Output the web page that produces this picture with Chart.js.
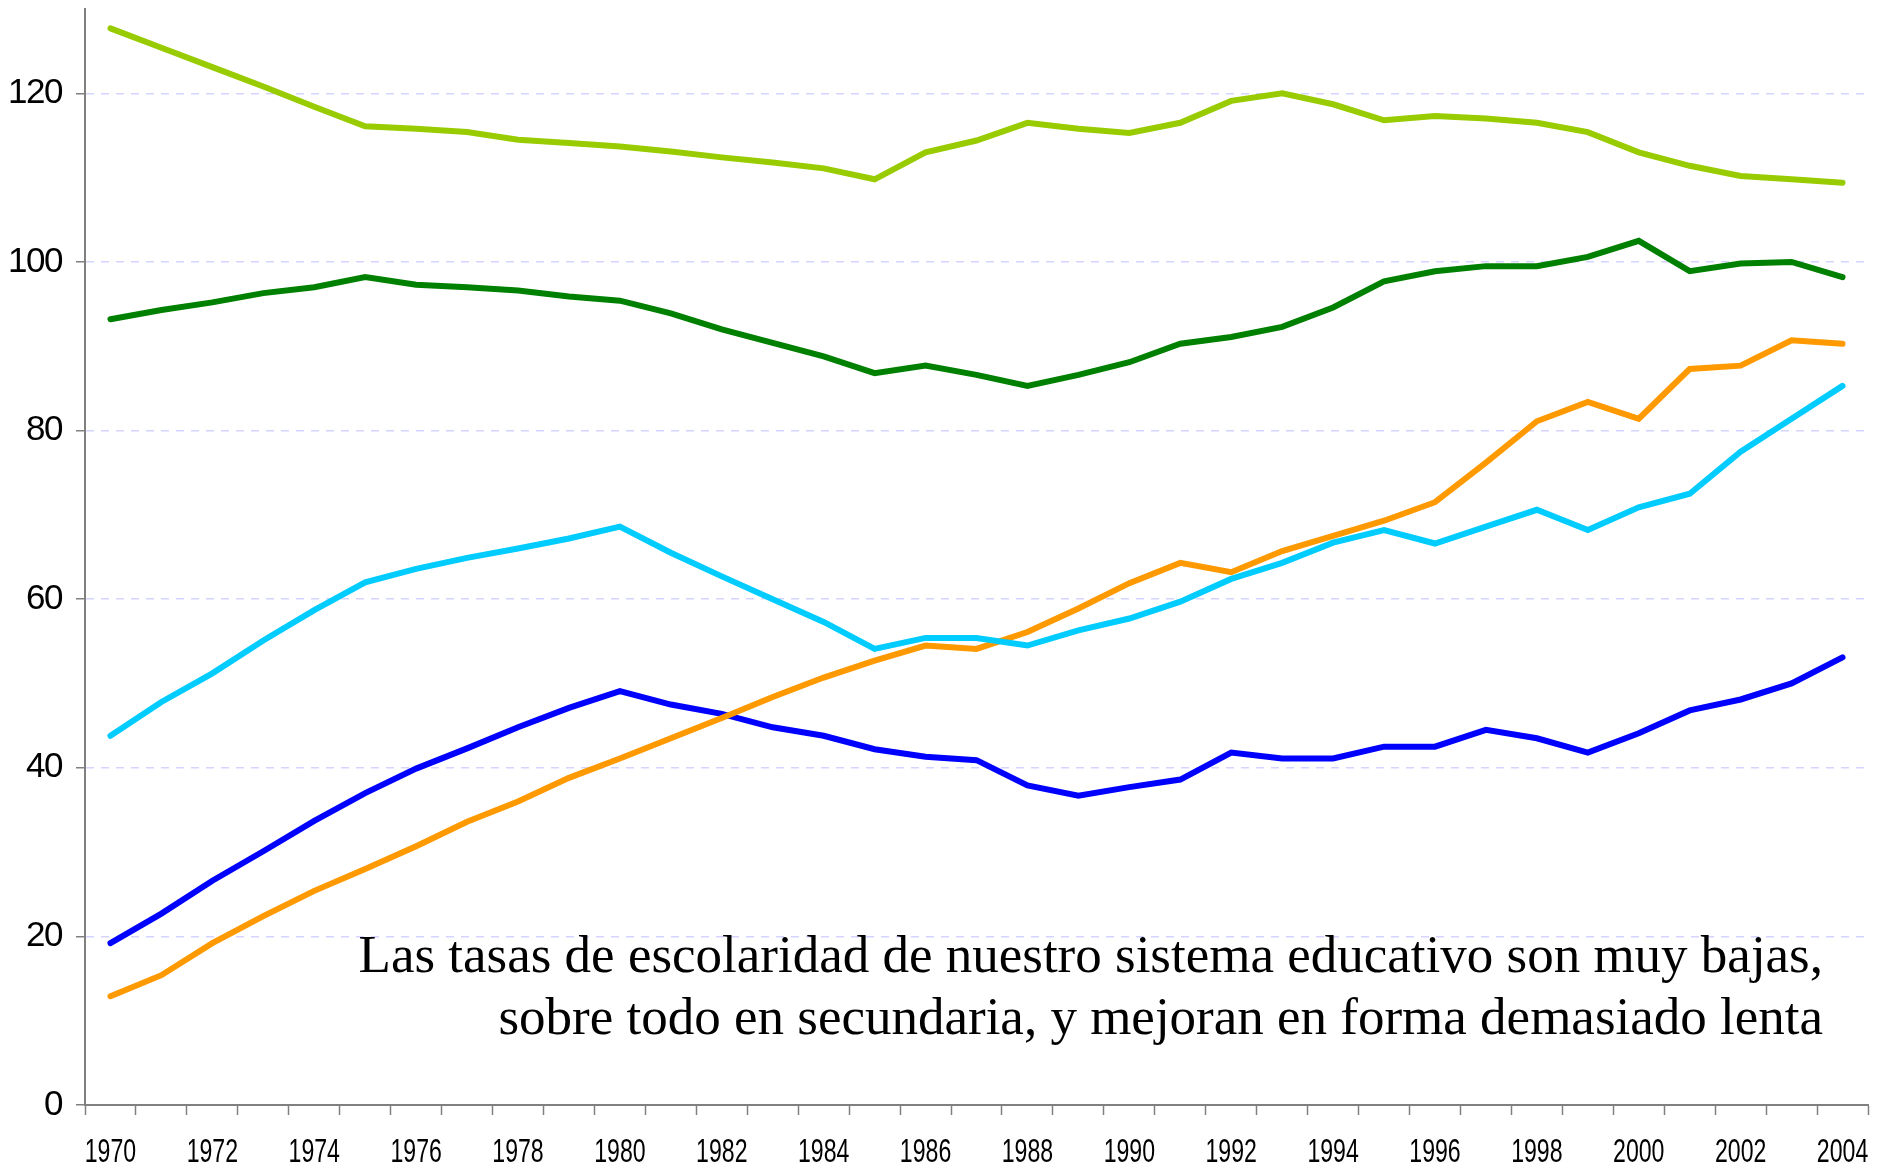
<!DOCTYPE html>
<html lang="es">
<head>
<meta charset="utf-8">
<title>Tasas de escolaridad 1970-2004</title>
<script src="https://cdn.jsdelivr.net/npm/chart.js@4/dist/chart.umd.min.js"></script>
<style>
    html, body { margin: 0; padding: 0; background: #ffffff; }
    #wrap { width: 1893px; height: 1168px; position: relative; }
</style>
</head>
<body>
<div id="wrap"><canvas id="chartTasas"></canvas></div>
<script>
// Years on the x axis
const years = ['1970', '1971', '1972', '1973', '1974', '1975', '1976', '1977', '1978', '1979',
    '1980', '1981', '1982', '1983', '1984', '1985', '1986', '1987', '1988', '1989',
    '1990', '1991', '1992', '1993', '1994', '1995', '1996', '1997', '1998', '1999',
    '2000', '2001', '2002', '2003', '2004'];

// Series values (%)
const serieVerdeClaro = [127.7, 125.4, 123.1, 120.8, 118.4, 116.1, 115.8, 115.4, 114.5, 114.1,
    113.7, 113.1, 112.4, 111.8, 111.1, 109.8, 113.0, 114.4, 116.5, 115.8,
    115.3, 116.5, 119.1, 120.0, 118.7, 116.8, 117.3, 117.0, 116.5, 115.4,
    113.0, 111.4, 110.2, 109.8, 109.4];
const serieVerdeOscuro = [93.2, 94.3, 95.2, 96.3, 97.0, 98.2, 97.3, 97.0, 96.6, 95.9,
    95.4, 93.9, 92.0, 90.4, 88.8, 86.8, 87.7, 86.6, 85.3, 86.6,
    88.1, 90.3, 91.1, 92.3, 94.6, 97.7, 98.9, 99.5, 99.5, 100.6,
    102.5, 98.9, 99.8, 100.0, 98.2];
const serieCian = [43.8, 47.8, 51.2, 55.1, 58.7, 62.0, 63.6, 64.9, 66.0, 67.2,
    68.6, 65.5, 62.7, 60.0, 57.3, 54.1, 55.4, 55.4, 54.5, 56.3,
    57.7, 59.7, 62.4, 64.3, 66.7, 68.2, 66.6, 68.6, 70.6, 68.2,
    70.9, 72.5, 77.5, 81.4, 85.3];
const serieNaranja = [12.9, 15.4, 19.2, 22.4, 25.4, 28.0, 30.7, 33.6, 36.0, 38.8,
    41.1, 43.5, 45.9, 48.4, 50.7, 52.7, 54.5, 54.1, 56.1, 58.9,
    61.9, 64.3, 63.2, 65.7, 67.5, 69.3, 71.5, 76.2, 81.1, 83.4,
    81.4, 87.3, 87.7, 90.7, 90.3];
const serieAzul = [19.2, 22.7, 26.6, 30.1, 33.7, 37.0, 39.9, 42.3, 44.8, 47.1,
    49.1, 47.5, 46.4, 44.8, 43.8, 42.2, 41.3, 40.9, 37.9, 36.7,
    37.7, 38.6, 41.8, 41.1, 41.1, 42.5, 42.5, 44.5, 43.5, 41.8,
    44.1, 46.8, 48.1, 50.0, 53.1];

// Y axis labels
const yTicks = [0, 20, 40, 60, 80, 100, 120];

const notaLineas = [
    'Las tasas de escolaridad de nuestro sistema educativo son muy bajas,',
    'sobre todo en secundaria, y mejoran en forma demasiado lenta'
];

function serie(label, data, color) {
    return {
        label: label,
        data: data,
        borderColor: color,
        backgroundColor: color,
        borderWidth: 6,
        borderCapStyle: 'round',
        borderJoinStyle: 'miter',
        pointRadius: 0,
        tension: 0,
        fill: false
    };
}

// Y numbers set slightly tight
const apretarTexto = {
    id: 'apretarTexto',
    beforeDraw(chart) { chart.ctx.letterSpacing = '-1.5px'; },
    afterDraw(chart) { chart.ctx.letterSpacing = '0px'; }
};

// Year labels: condensed text under every second tick
const etiquetasAnios = {
    id: 'etiquetasAnios',
    afterDraw(chart) {
        const ctx = chart.ctx;
        const xScale = chart.scales.x;
        const yBase = xScale.top + 57;
        ctx.save();
        ctx.letterSpacing = '0px';
        ctx.fillStyle = '#000000';
        ctx.font = '33px "Liberation Sans", Arial, sans-serif';
        ctx.textAlign = 'center';
        ctx.textBaseline = 'alphabetic';
        years.forEach(function (anio, i) {
            if (i % 2 !== 0) return;
            const x = xScale.getPixelForTick(i);
            ctx.save();
            ctx.translate(x, yBase);
            ctx.scale(0.7, 1);
            ctx.fillText(anio, 0, 0);
            ctx.restore();
        });
        ctx.restore();
    }
};

// Text block in the lower right of the plot
const notaPlugin = {
    id: 'nota',
    afterDatasetsDraw(chart) {
        const ctx = chart.ctx;
        ctx.save();
        ctx.letterSpacing = '0px';
        ctx.fillStyle = '#000000';
        ctx.font = '53px "Liberation Serif", "Times New Roman", serif';
        ctx.textAlign = 'right';
        ctx.textBaseline = 'alphabetic';
        ctx.fillText(notaLineas[0], 1823, 972);
        ctx.fillText(notaLineas[1], 1823, 1034);
        ctx.restore();
    }
};

function sinRelleno(scale) {
    scale.paddingTop = 0;
    scale.paddingBottom = 0;
}

function initChartTasas() {
    const ctx = document.getElementById('chartTasas');
    Chart.defaults.font.family = '"Liberation Sans", Arial, sans-serif';
    Chart.defaults.color = '#000000';

    new Chart(ctx, {
        type: 'line',
        data: {
            labels: years,
            datasets: [
                serie('Serie 1', serieVerdeClaro, '#99cc00'),
                serie('Serie 2', serieVerdeOscuro, '#008000'),
                serie('Serie 3', serieCian, '#00ccff'),
                serie('Serie 4', serieNaranja, '#ff9900'),
                serie('Serie 5', serieAzul, '#0000ff')
            ]
        },
        options: {
            responsive: true,
            maintainAspectRatio: false,
            animation: false,
            layout: { padding: { top: 9, right: 25, left: 0, bottom: 0 } },
            plugins: {
                legend: { display: false },
                tooltip: { enabled: false }
            },
            scales: {
                x: {
                    type: 'category',
                    offset: true,
                    grid: {
                        offset: true,
                        drawOnChartArea: false,
                        tickLength: 10,
                        tickColor: '#808080',
                        tickWidth: 1.5
                    },
                    border: { color: '#808080', width: 2 },
                    ticks: {
                        autoSkip: false,
                        maxRotation: 0,
                        font: { size: 28 },
                        // drawn by etiquetasAnios
                        callback: function () { return ''; }
                    },
                    afterFit: function (scale) {
                        scale.height = 63;
                        scale.paddingLeft = 0;
                        scale.paddingRight = 0;
                    }
                },
                y: {
                    min: 0,
                    max: 130,
                    grid: {
                        color: '#d4d4ff',
                        lineWidth: 1.5,
                        tickLength: 9,
                        tickColor: '#808080',
                        tickWidth: 1.5
                    },
                    border: { color: '#808080', width: 2, dash: [8, 7] },
                    ticks: {
                        stepSize: 20,
                        padding: 14,
                        font: { size: 35 }
                    },
                    afterBuildTicks: function (scale) {
                        scale.ticks = yTicks.map(v => ({ value: v }));
                    },
                    afterFit: function (scale) {
                        scale.width = 85;
                        sinRelleno(scale);
                    }
                }
            }
        },
        plugins: [apretarTexto, etiquetasAnios, notaPlugin]
    });
}

document.addEventListener('DOMContentLoaded', function () {
    try {
        initChartTasas();
    } catch (error) {
        console.error('Error al iniciar el gráfico:', error);
    }
});
</script>
</body>
</html>
